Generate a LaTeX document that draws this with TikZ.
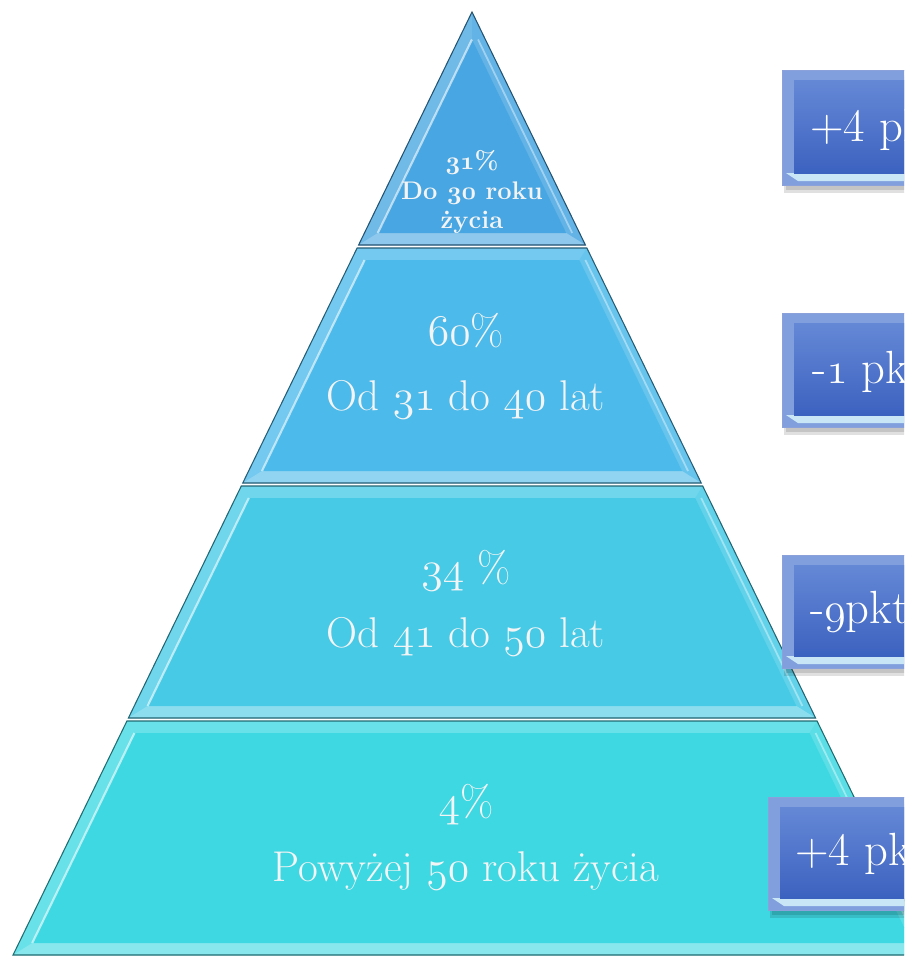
\documentclass[tikz,border=0pt]{standalone}
\usepackage{fontspec}
\definecolor{tierA}{RGB}{72,166,226}
\definecolor{tierB}{RGB}{76,186,234}
\definecolor{tierC}{RGB}{70,202,230}
\definecolor{tierD}{RGB}{62,216,226}
\definecolor{boxblue}{RGB}{80,120,208}
\definecolor{boxdark}{RGB}{60,98,192}
\definecolor{boxstrip}{RGB}{200,230,246}
\definecolor{txtwhite}{RGB}{244,244,244}
% old-style figures from the math italic font
\newcommand{\osn}[1]{{\fontencoding{OML}\fontfamily{cmm}\fontshape{it}\selectfont #1}}
\tikzset{
  tierlabel/.style={text=txtwhite, align=center, font=\fontsize{24.5}{37}\selectfont},
  toplabel/.style={text=txtwhite, align=center, font=\bfseries\fontsize{14.5}{17}\selectfont},
  pktlabel/.style={text=white, anchor=west, inner sep=0pt, font=\fontsize{26.5}{30}\selectfont},
}
% one tier of the pyramid: top y, bottom y, colour
\newcommand{\pyrtier}[3]{%
  \pgfmathsetmacro{\wt}{(#1-12)*0.4867}
  \pgfmathsetmacro{\wb}{(#2-12)*0.4867}
  \pgfmathsetmacro{\it}{max(#1+12,39.5)}
  \pgfmathsetmacro{\ib}{#2-12}
  \pgfmathsetmacro{\iwt}{(\it-12)*0.4867-13.35}
  \pgfmathsetmacro{\iwb}{(\ib-12)*0.4867-13.35}
  \fill[#3!78!white] (472-\wt,#1) -- (472+\wt,#1) -- (472+\wb,#2) -- (472-\wb,#2) -- cycle;
  \fill[#3!85!white] (472+\wt,#1) -- (472+\wb,#2) -- (472+\iwb,\ib) -- (472+\iwt,\it) -- cycle;
  \fill[#3!62!white] (472-\wb,#2) -- (472+\wb,#2) -- (472+\iwb,\ib) -- (472-\iwb,\ib) -- cycle;
  \fill[#3] (472-\iwt,\it) -- (472+\iwt,\it) -- (472+\iwb,\ib) -- (472-\iwb,\ib) -- cycle;
  \draw[white, opacity=0.6, line width=1.2pt] (472-\iwb,\ib) -- (472-\iwt,\it);
  \draw[white, opacity=0.4, line width=1pt] (472+\iwb+6,\ib) -- (472+\iwt+6,\it);
  \draw[#3!50!black, line width=0.6pt] (472-\wt,#1) -- (472+\wt,#1) -- (472+\wb,#2) -- (472-\wb,#2) -- cycle;
}
% one box on the right: left x, top y, bottom y
\newcommand{\pktbox}[3]{%
  \fill[black, opacity=0.12] (#1+2,#2+5) rectangle (990,#3+8);
  \fill[black, opacity=0.12] (#1+4,#2+7) rectangle (990,#3+5);
  \fill[boxblue!72!white] (#1,#2) rectangle (990,#3);
  \fill[boxstrip] (#1+4,#3-12) -- (#1+16,#3-4) -- (990,#3-4) -- (990,#3-12) -- cycle;
  \shade[top color=boxblue!88!white, bottom color=boxdark] (#1+12,#2+10) rectangle (990,#3-12);
  \draw[boxdark!60!white, line width=0.4pt] (#1,#2) rectangle (990,#3);
}
\begin{document}
\begin{tikzpicture}[x=0.02cm, y=-0.02cm]
  \useasboundingbox (0,0) rectangle (904,964);
  \clip (0,0) rectangle (904,964);
  \fill[white] (0,0) rectangle (904,964);

  % pyramid
  \pyrtier{12}{245}{tierA}
  \pyrtier{248}{483}{tierB}
  \pyrtier{486}{718}{tierC}
  \pyrtier{721}{955}{tierD}

  \node[toplabel] (lblA) at (472,192) {\osn{31}\%\\Do \osn{30} roku\\życia};
  \node[tierlabel] (lblB) at (466,366) {\osn{60}\%\\Od \osn{31} do \osn{40} lat};
  \node[tierlabel] (lblC) at (466,603) {\osn{34} \%\\Od \osn{41} do \osn{50} lat};
  \node[tierlabel] (lblD) at (466,837) {\osn{4}\%\\Powyżej \osn{50} roku życia};

  % boxes on the right
  \pktbox{782}{70}{185}
  \pktbox{782}{313}{427}
  \pktbox{782}{555}{668}
  \pktbox{768}{797}{910}

  \node[pktlabel] (pktA) at (810,130) {+4 pkt};
  \node[pktlabel] (pktB) at (812,372) {-\osn{1} pkt};
  \node[pktlabel] (pktC) at (810,612) {-\osn{9}pkt};
  \node[pktlabel] (pktD) at (795,854) {+4 pkt};
\end{tikzpicture}
\end{document}
